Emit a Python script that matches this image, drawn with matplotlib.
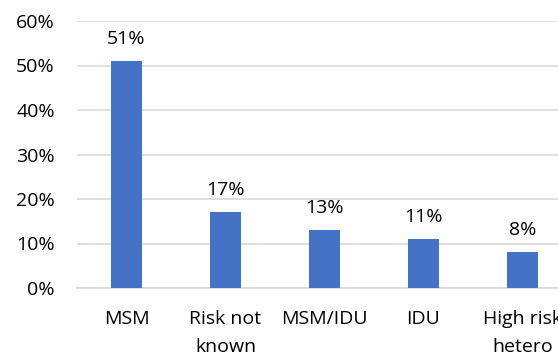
import matplotlib
matplotlib.use("Agg")
import matplotlib.pyplot as plt
from matplotlib.ticker import FuncFormatter

categories = ["MSM", "Risk not\nknown", "MSM/IDU", "IDU", "High risk\nhetero"]
values = [51, 17, 13, 11, 8]
yticks = [0, 10, 20, 30, 40, 50, 60]

plt.rcParams['font.family'] = ['Open Sans', 'DejaVu Sans']

fig = plt.figure(figsize=(5.58, 3.58), dpi=100)
W, H = 558, 358
left_px, right_px = 77, 572
top_px, bot_px = 21, 288
ax = fig.add_axes([left_px / W, (H - bot_px) / H, (right_px - left_px) / W, (bot_px - top_px) / H])

x = list(range(len(categories)))
bars = ax.bar(x, values, width=0.31, color="#4472C4", zorder=3)
for xi, v in zip(x, values):
    ax.annotate(f"{v}%", (xi, v), xytext=(0, 9.5), textcoords="offset points",
                ha="center", va="bottom", fontsize=14, color="#000000")

ax.set_xlim(-0.5, len(categories) - 0.5)
ax.set_ylim(0, 60)
ax.set_yticks(yticks)
ax.yaxis.set_major_formatter(FuncFormatter(lambda v, p: f"{int(v)}%"))
ax.set_xticks(x)
ax.set_xticklabels(categories, fontsize=14, linespacing=1.7)
ax.tick_params(axis="y", labelsize=14, length=0, pad=16)
ax.tick_params(axis="x", length=0, pad=16)
ax.grid(axis="y", color="#D9D9D9", linewidth=1.2, zorder=0)
for s in ["top", "right", "left"]:
    ax.spines[s].set_visible(False)
ax.spines["bottom"].set_color("#D9D9D9")
ax.spines["bottom"].set_linewidth(1.2)

fig.savefig("out.png", dpi=100)
